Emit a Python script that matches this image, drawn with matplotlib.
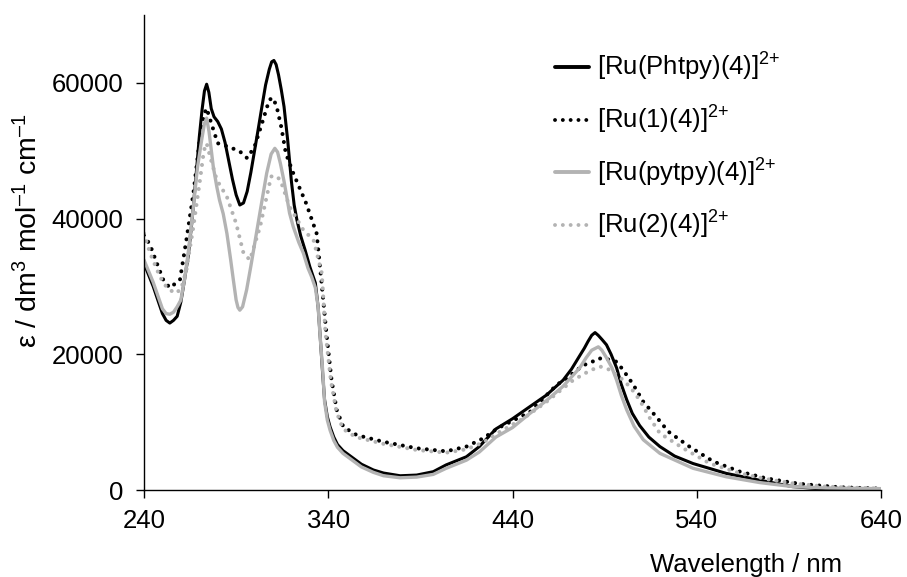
import matplotlib
matplotlib.use("Agg")
import matplotlib.pyplot as plt

plt.rcParams['font.family'] = ['Liberation Sans', 'DejaVu Sans']
plt.rcParams['mathtext.fontset'] = 'custom'
plt.rcParams['mathtext.rm'] = 'Liberation Sans'
plt.rcParams['mathtext.it'] = 'Liberation Sans'
plt.rcParams['mathtext.default'] = 'regular'

# ---- data (wavelength / nm, epsilon / dm3 mol-1 cm-1) ----
wl_phtpy = [240, 245, 250, 252, 254, 256, 258, 260, 262, 264, 266, 268, 270, 271.5, 272.8, 274,
            275.2, 276.5, 278, 280, 282, 284, 286, 288, 290, 292, 294, 296, 298, 300, 302, 304,
            306, 308, 309.3, 310.5, 311.7, 313, 314.5, 316, 318, 320, 321.5, 323, 325, 327.5,
            330, 333, 334.5, 335.5, 337, 338, 339.5, 341, 343, 345, 348, 353.5, 358, 364.5, 370,
            379, 388, 397, 404, 415, 422, 431, 440, 449.5, 458.5, 467.5, 472, 476.5, 479, 481,
            483, 484.8, 486.5, 488.5, 491, 493.5, 496.5, 499, 502, 505, 509, 514, 520, 528, 538,
            556, 574, 592, 610, 625, 640]
eps_phtpy = [33400, 30000, 26000, 25000, 24600, 25000, 25600, 27700, 31000, 34500, 39500, 45500,
             52000, 56000, 58800, 59800, 58600, 56200, 55000, 54300, 53200, 51200, 48500, 45800,
             43500, 42000, 42300, 44000, 46800, 50000, 53200, 56500, 59700, 62000, 63100, 63300,
             62700, 61200, 59000, 56500, 51500, 45500, 42000, 39800, 37500, 35300, 32900, 30500,
             27000, 23100, 17000, 13300, 10800, 9300, 7800, 6700, 5800, 4700, 3800, 2950, 2500,
             2100, 2200, 2700, 3700, 4900, 6400, 9000, 10500, 12300, 14000, 16200, 17800, 19800,
             20900, 21900, 22800, 23200, 22800, 22200, 21400, 20000, 18000, 15600, 13300, 11300,
             9500, 7800, 6400, 5000, 3900, 2450, 1450, 500, 100, 0, 0]

wl_ru1 = [240, 243.3, 247, 250.5, 254, 259.5, 263, 266.8, 270.4, 272.5, 274, 276, 280, 285.8, 292,
          296, 300, 304, 308, 310, 312, 314.5, 317, 321, 328, 333.7, 336.4, 339, 341.8, 344.6,
          348.2, 355.4, 370, 388, 404, 415, 424, 432, 449.5, 464, 469.4, 478.4, 482, 486.6,
          491, 496.5, 500, 505.6, 511, 518, 524.6, 536, 549, 563.5, 578, 596, 617.7, 640]
eps_ru1 = [37600, 36100, 33400, 30950, 29800, 30950, 36850, 43700, 52000, 55300, 56250, 54500,
           51100, 50600, 49900, 48900, 50600, 54000, 57500, 57800, 56500, 53500, 49600, 46700,
           42250, 37800, 30500, 23100, 16200, 11800, 9300, 8100, 7100, 6150, 5700, 6400, 7600,
           9100, 11500, 15500, 16450, 18400, 18700, 19400, 19300, 18900, 17700, 15500, 13000,
           10800, 8600, 6400, 4200, 2700, 1700, 900, 400, 200]

wl_pytpy = [240, 245, 250, 252, 254, 256, 258, 260, 262, 264, 266.8, 269, 271.3, 272.8, 274,
            275.3, 277.6, 279.5, 281, 283, 285, 287, 288.5, 290, 291, 292, 293.5, 295.7, 298, 301,
            304, 306.6, 309, 311, 312.5, 314, 316, 317.5, 319, 321, 324, 326.5, 329, 331, 333,
            334.5, 335.5, 337, 338, 339.5, 341, 343, 345, 348, 353.5, 358, 364.5, 370, 379, 388,
            397, 404, 415, 422, 431, 440, 449.5, 458.5, 467.5, 476.5, 480, 483, 486.6, 488.5, 491,
            494, 496.5, 499, 502, 506, 511, 520, 538, 556, 574, 592, 610, 640]
eps_pytpy = [33900, 30600, 26700, 26000, 25900, 26200, 27000, 28000, 31000, 35000, 41750, 47500,
             51600, 54000, 54800, 52800, 47650, 44700, 42700, 40700, 37800, 34000, 30950, 28000,
             26900, 26500, 27000, 29500, 33000, 37800, 42600, 46700, 49500, 50350, 49800, 48150,
             45500, 43200, 40800, 38800, 36500, 34900, 32700, 31400, 29800, 27000, 23000, 17500,
             13000, 10300, 8800, 7300, 6300, 5400, 4300, 3400, 2600, 2100, 1800, 1900, 2300, 3200,
             4400, 5600, 7800, 9200, 11300, 13200, 15300, 18000, 19500, 20600, 21100, 20600, 19500,
             18000, 16200, 14000, 11800, 9400, 7400, 5400, 3200, 1950, 1100, 500, 300, 200]

wl_ru2 = [240, 243.3, 248.7, 252, 256.5, 260, 263, 266.8, 270.4, 272.5, 274, 276, 279.5, 285, 290,
          294, 297.5, 303, 309, 311.5, 314, 319, 326.5, 332, 336.5, 338.5, 341.5, 344.5, 348, 355,
          370, 388, 404, 415, 424, 432, 446, 458, 473, 482, 487.5, 492, 498, 503.8, 509, 514.6,
          520, 532.7, 547, 563.5, 578, 592, 610, 640]
eps_ru2 = [37800, 34900, 31400, 30000, 29000, 29500, 32400, 38800, 45700, 50000, 51100, 49000,
           45700, 43200, 39300, 34900, 33900, 38800, 46200, 46300, 45700, 41750, 38300, 36850,
           31950, 23100, 16000, 11500, 9000, 7800, 6800, 5900, 5500, 6000, 7000, 8400, 10570,
           12900, 16200, 17600, 18200, 17800, 16700, 15200, 13260, 10570, 8350, 6140, 3930, 2460,
           1600, 980, 500, 200]

labels = [r'[Ru(Phtpy)(4)]$^{2{+}}$', r'[Ru(1)(4)]$^{2{+}}$',
          r'[Ru(pytpy)(4)]$^{2{+}}$', r'[Ru(2)(4)]$^{2{+}}$']
xticks = [240, 340, 440, 540, 640]
yticks = [0, 20000, 40000, 60000]

BLACK = '#000000'
GRAY = '#b3b3b3'
DOT = (0, (0.01, 2.0))
FS = 18.5

fig = plt.figure(figsize=(9.07, 5.77), dpi=100)
ax = fig.add_axes([144/907, 1-490/577, (881-144)/907, (490-15)/577])

ax.plot(wl_phtpy, eps_phtpy, color=BLACK, lw=2.2, label=labels[0],
        solid_joinstyle='round', solid_capstyle='round')
ax.plot(wl_ru1, eps_ru1, color=BLACK, lw=2.9, ls=DOT, dash_capstyle='round', label=labels[1])
ax.plot(wl_pytpy, eps_pytpy, color=GRAY, lw=2.4, label=labels[2],
        solid_joinstyle='round', solid_capstyle='round')
ax.plot(wl_ru2, eps_ru2, color=GRAY, lw=2.9, ls=DOT, dash_capstyle='round', label=labels[3])

ax.set_xlim(240, 640)
ax.set_ylim(0, 70000)
ax.set_xticks(xticks)
ax.set_yticks(yticks)
ax.set_xticklabels([str(t) for t in xticks])
ax.set_yticklabels([str(t) for t in yticks])
for s in ['top', 'right']:
    ax.spines[s].set_visible(False)
for s in ['left', 'bottom']:
    ax.spines[s].set_linewidth(1.0)
ax.tick_params(axis='both', direction='out', length=6, width=1.0, labelsize=FS)
ax.tick_params(axis='x', pad=8)
ax.tick_params(axis='y', pad=9)

fig.text(842/907, 1-572/577, 'Wavelength / nm', ha='right', va='baseline', fontsize=FS)
fig.text(29/907, 1-348/577, r'ε / dm$^3$ mol$^{–1}$ cm$^{–1}$', rotation=90,
         ha='center', va='bottom', fontsize=20.5)

leg = ax.legend(loc='upper left', bbox_to_anchor=(555/907, 1-51/577),
                bbox_transform=fig.transFigure, frameon=False, fontsize=FS,
                handlelength=1.32, handletextpad=0.33, labelspacing=0.8,
                borderpad=0, borderaxespad=0)
for h in leg.get_lines():
    h.set_linewidth(2.8)

fig.savefig('out.png', dpi=100)
